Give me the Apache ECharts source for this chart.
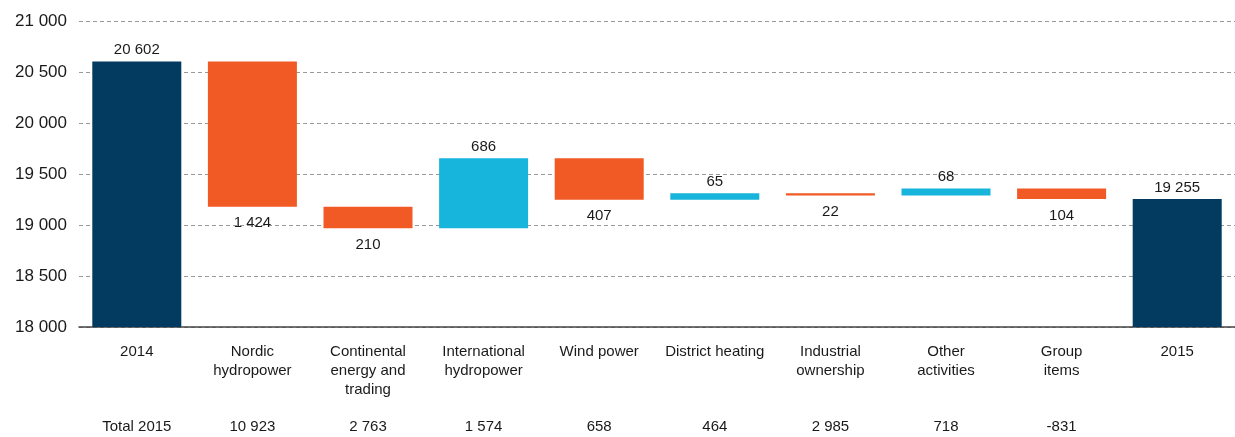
<!DOCTYPE html>
<html>
<head>
<meta charset="utf-8">
<script src="https://cdn.jsdelivr.net/npm/echarts@6/dist/echarts.min.js"></script>
<style>
  html, body { margin: 0; padding: 0; background: #fff; }
  #chart { width: 1235px; height: 437px; }
</style>
</head>
<body>
<div id="chart"></div>
<script>
// categories under the bars
var categories = ['2014', 'Nordic\nhydropower', 'Continental\nenergy and\ntrading', 'International\nhydropower',
  'Wind power', 'District heating', 'Industrial\nownership', 'Other\nactivities', 'Group\nitems', '2015'];
var startValue = 20602;
var changes = [-1424, -210, 686, -407, 65, -22, 68, -104];   // one per segment
var endValue = 19255;
var totalRow = ['Total 2015', '10 923', '2 763', '1 574', '658', '464', '2 985', '718', '-831', ''];
var yTicks = [18000, 21000, 500]; // min, max, interval

var navy = '#033a60', orange = '#f15a24', cyan = '#17b4dc';

function fmt(n) {
  return String(n).replace(/\B(?=(\d{3})+(?!\d))/g, ' ');
}

// build waterfall: invisible base + visible bar
var base = [], bars = [], labels = [];
base.push(0);
bars.push({ value: startValue, itemStyle: { color: navy }, label: { position: 'top', distance: 4 } });
labels.push(fmt(startValue));
var running = startValue;
changes.forEach(function (d) {
  var low = d < 0 ? running + d : running;
  base.push(low);
  bars.push({
    value: Math.abs(d),
    itemStyle: { color: d < 0 ? orange : cyan },
    label: d < 0 ? { position: 'bottom', distance: 9 } : { position: 'top', distance: 4 }
  });
  labels.push(fmt(Math.abs(d)));
  running += d;
});
base.push(0);
bars.push({ value: endValue, itemStyle: { color: navy }, label: { position: 'top', distance: 4 } });
labels.push(fmt(endValue));

var chart = echarts.init(document.getElementById('chart'));
var option = {
  animation: false,
  textStyle: { fontFamily: 'Liberation Sans, Arial, sans-serif' },
  grid: { left: 79, width: 1160, top: 21, bottom: 110, containLabel: false },
  xAxis: [
    {
      type: 'category',
      data: categories,
      axisLine: { show: true, lineStyle: { color: '#444', width: 1.5 } },
      axisTick: { show: false },
      axisLabel: { interval: 0, margin: 15, fontSize: 15, lineHeight: 19, color: '#1a1a1a' }
    },
    {
      type: 'category',
      position: 'bottom',
      offset: 92,
      data: totalRow,
      axisLine: { show: false },
      axisTick: { show: false },
      axisLabel: { interval: 0, margin: 0, fontSize: 15, color: '#1a1a1a' }
    }
  ],
  yAxis: {
    type: 'value',
    min: yTicks[0],
    max: yTicks[1],
    interval: yTicks[2],
    axisLine: { show: false },
    axisTick: { show: false },
    axisLabel: { fontSize: 17, color: '#1a1a1a', margin: 12, formatter: fmt },
    splitLine: { lineStyle: { color: '#9a9a9a', type: [4, 3], width: 1 } }
  },
  series: [
    {
      type: 'bar',
      stack: 'wf',
      barWidth: 89,
      itemStyle: { color: 'transparent' },
      data: base,
      silent: true
    },
    {
      type: 'bar',
      stack: 'wf',
      barWidth: 89,
      data: bars,
      label: {
        show: true,
        fontSize: 15,
        color: '#1a1a1a',
        formatter: function (p) { return labels[p.dataIndex]; }
      }
    }
  ]
};
chart.setOption(option);
window.addEventListener('resize', function () { chart.resize(); });
</script>
</body>
</html>
